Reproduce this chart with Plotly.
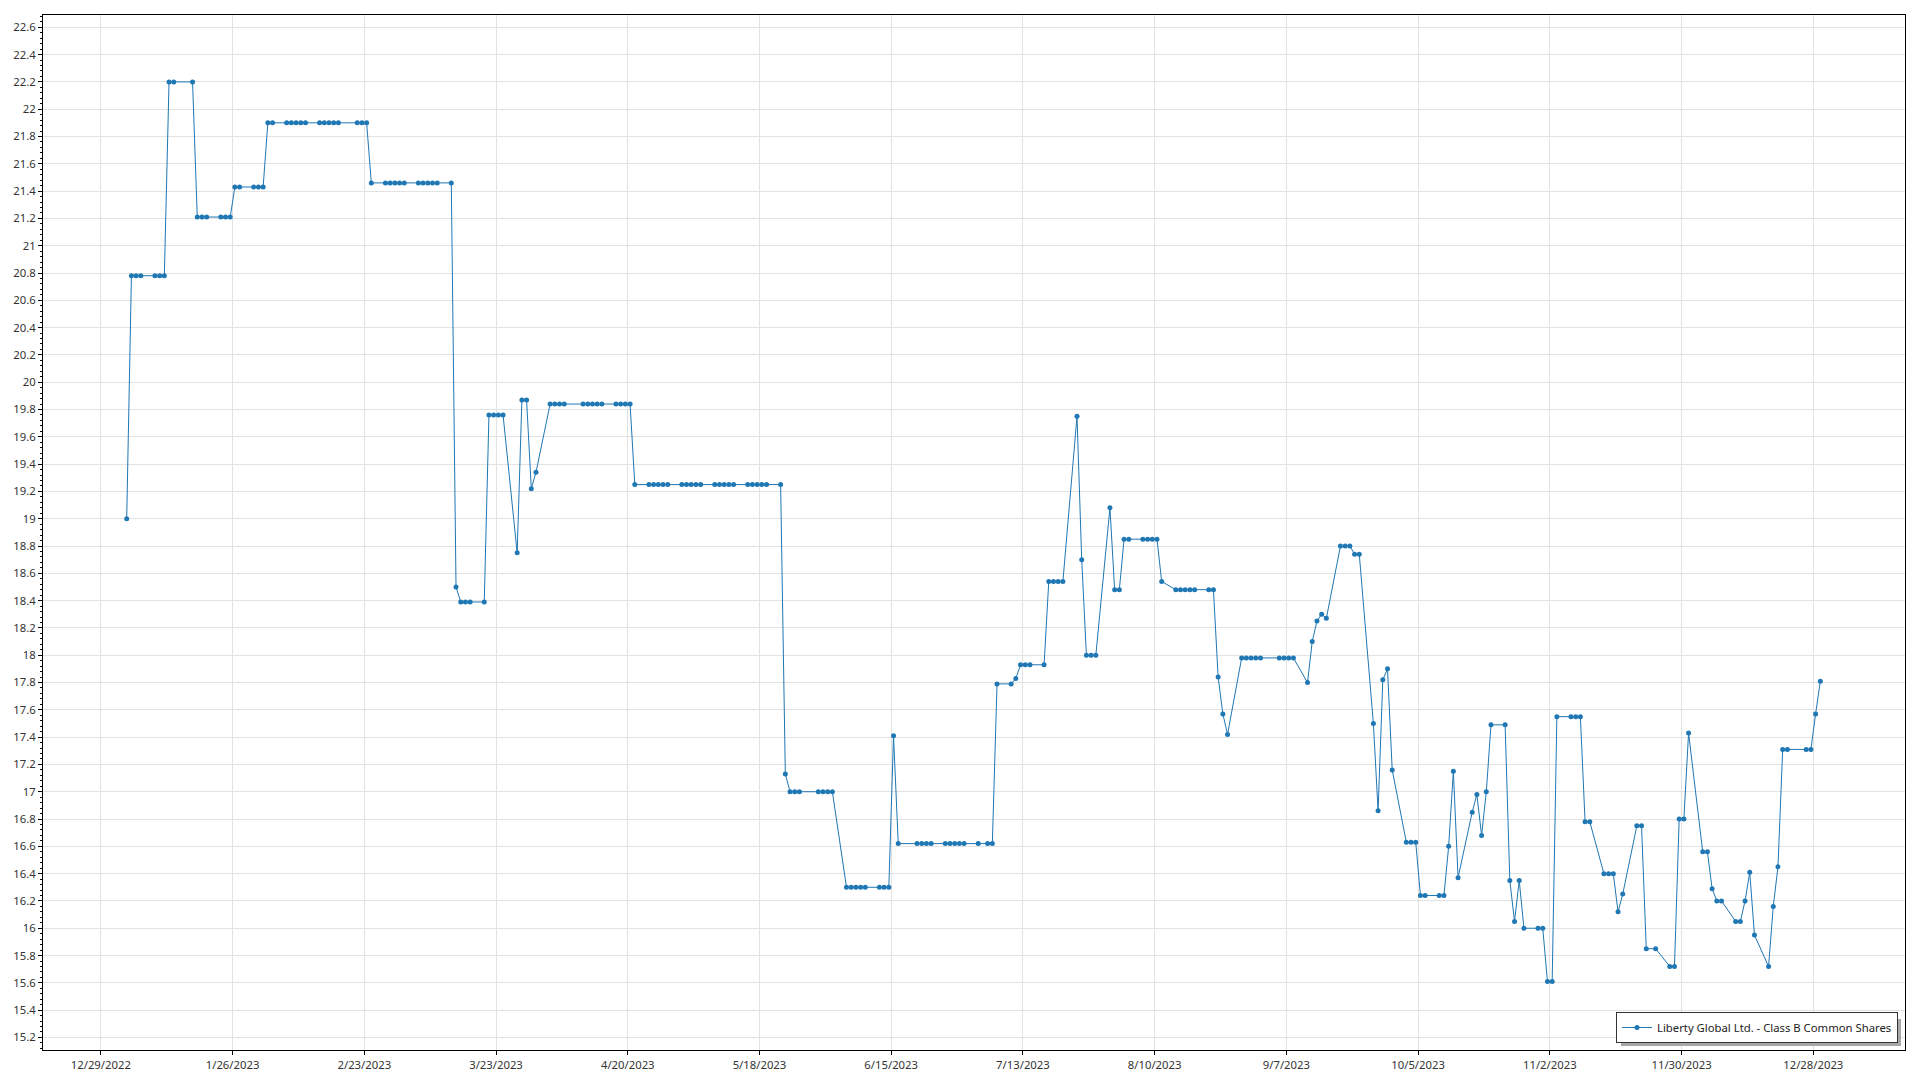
import pandas as pd
import plotly.graph_objects as go

# ---- data ----
holidays = ["2023-01-02", "2023-01-16", "2023-02-20", "2023-04-07", "2023-05-29",
            "2023-06-19", "2023-07-04", "2023-09-04", "2023-11-23", "2023-12-25"]

jan = [19.0, 20.78, 20.78, 20.78, 20.78, 20.78, 20.78, 22.2, 22.2, 22.2,
       21.21, 21.21, 21.21, 21.21, 21.21, 21.21, 21.43, 21.43, 21.43, 21.43]
feb = [21.43, 21.9, 21.9, 21.9, 21.9, 21.9, 21.9, 21.9, 21.9, 21.9, 21.9, 21.9,
       21.9, 21.9, 21.9, 21.9, 21.46, 21.46, 21.46]
mar = [21.46, 21.46, 21.46, 21.46, 21.46, 21.46, 21.46, 21.46, 21.46, 18.5,
       18.39, 18.39, 18.39, 18.39, 19.76, 19.76, 19.76, 19.76, 18.75, 19.87,
       19.87, 19.22, 19.34]
apr = [19.84, 19.84, 19.84, 19.84, 19.84, 19.84, 19.84, 19.84, 19.84, 19.84,
       19.84, 19.84, 19.84, 19.25, 19.25, 19.25, 19.25, 19.25, 19.25]
may = [19.25, 19.25, 19.25, 19.25, 19.25, 19.25, 19.25, 19.25, 19.25, 19.25,
       19.25, 19.25, 19.25, 19.25, 19.25, 19.25, 17.13, 17.0, 17.0, 17.0, 17.0, 17.0]
jun = [17.0, 17.0, 16.3, 16.3, 16.3, 16.3, 16.3, 16.3, 16.3, 16.3, 17.41, 16.62,
       16.62, 16.62, 16.62, 16.62, 16.62, 16.62, 16.62, 16.62, 16.62]
jul = [16.62, 16.62, 16.62, 17.79, 17.79, 17.83, 17.93, 17.93, 17.93, 17.93,
       18.54, 18.54, 18.54, 18.54, 19.75, 18.70, 18.0, 18.0, 18.0, 19.08]
aug = [18.48, 18.48, 18.85, 18.85, 18.85, 18.85, 18.85, 18.85, 18.54, 18.48,
       18.48, 18.48, 18.48, 18.48, 18.48, 18.48, 17.84, 17.57, 17.42, 17.98,
       17.98, 17.98, 17.98]
sep = [17.98, 17.98, 17.98, 17.98, 17.98, 17.8, 18.10, 18.25, 18.30, 18.27,
       18.8, 18.8, 18.8, 18.74, 18.74, 17.5, 16.86, 17.82, 17.90, 17.16]
oct_ = [16.63, 16.63, 16.63, 16.24, 16.24, 16.24, 16.24, 16.6, 17.15, 16.37,
        16.85, 16.98, 16.68, 17.0, 17.49, 17.49, 16.35, 16.05, 16.35, 16.0, 16.0, 16.0]
nov = [15.61, 15.61, 17.55, 17.55, 17.55, 17.55, 16.78, 16.78, 16.4, 16.4, 16.4,
       16.12, 16.25, 16.75, 16.75, 15.85, 15.85, 15.72, 15.72, 16.8, 16.8]
dec = [17.43, 16.56, 16.56, 16.29, 16.2, 16.2, 16.05, 16.05, 16.2, 16.41, 15.95,
       15.72, 16.16, 16.45, 17.31, 17.31, 17.31, 17.31, 17.57, 17.81]

prices = jan + feb + mar + apr + may + jun + jul + aug + sep + oct_ + nov + dec

tick_dates = ["2022-12-29", "2023-01-26", "2023-02-23", "2023-03-23", "2023-04-20",
              "2023-05-18", "2023-06-15", "2023-07-13", "2023-08-10", "2023-09-07",
              "2023-10-05", "2023-11-02", "2023-11-30", "2023-12-28"]
tick_labels = ["12/29/2022", "1/26/2023", "2/23/2023", "3/23/2023", "4/20/2023",
               "5/18/2023", "6/15/2023", "7/13/2023", "8/10/2023", "9/7/2023",
               "10/5/2023", "11/2/2023", "11/30/2023", "12/28/2023"]

series_name = "Liberty Global Ltd. - Class B Common Shares"

# ---- build ----
days = pd.bdate_range("2023-01-03", "2023-12-29", freq="C", holidays=holidays)
x = days + pd.Timedelta(hours=12)
assert len(x) == len(prices)

FONT = "Segoe UI, Noto Sans, DejaVu Sans, sans-serif"
FS = 11.3
GRID = "#e2e2e2"

# plot-area geometry (pixels) used for legend placement
L, R, T, B = 43, 15, 15, 30
PW, PH = 1920 - L - R, 1080 - T - B

fig = go.Figure()
fig.add_trace(go.Scatter(
    x=x, y=prices, mode="lines+markers", name=series_name, showlegend=True,
    line=dict(color="#1f77b4", width=1),
    marker=dict(color="#1f77b4", size=5),
))

# legend drop shadow
leg_right, leg_bottom, leg_left, leg_top = 1898, 1043, 1618, 1016
fig.add_shape(
    type="rect", xref="paper", yref="paper", layer="above",
    x0=(leg_left + 3 - L) / PW, x1=(leg_right + 3 - L) / PW,
    y0=(1080 - B - (leg_bottom + 3)) / PH, y1=(1080 - B - (leg_top + 3)) / PH,
    fillcolor="#a8a8a8", line=dict(width=0),
)

fig.update_layout(
    width=1920, height=1080, autosize=False,
    margin=dict(l=L, r=R, t=T, b=B, pad=0),
    paper_bgcolor="white", plot_bgcolor="white",
    font=dict(family=FONT, size=FS, color="#333333"),
    legend=dict(
        x=(leg_right - L) / PW, y=(1080 - B - leg_bottom) / PH,
        xanchor="right", yanchor="bottom",
        bgcolor="white", bordercolor="#333333", borderwidth=1,
        font=dict(family=FONT, size=FS, color="#222222"),
        itemwidth=30,
    ),
    xaxis=dict(
        type="date", automargin=False,
        range=["2022-12-16 17:00", "2024-01-16 12:00"],
        tickmode="array", tickvals=tick_dates, ticktext=tick_labels,
        showgrid=True, gridcolor=GRID, gridwidth=1,
        showline=True, mirror=True, linecolor="black", linewidth=1,
        ticks="outside", ticklen=4, tickcolor="black",
        zeroline=False, tickfont=dict(size=FS, color="#333333"),
    ),
    yaxis=dict(
        automargin=False,
        range=[15.108, 22.69], tick0=15.2, dtick=0.2,
        showgrid=True, gridcolor=GRID, gridwidth=1,
        showline=True, mirror=True, linecolor="black", linewidth=1,
        ticks="outside", ticklen=4, tickcolor="black",
        minor=dict(dtick=0.04, ticks="outside", ticklen=2, tickcolor="black", showgrid=False),
        zeroline=False, tickfont=dict(size=FS, color="#333333"),
    ),
)

fig.write_html("out.html", config={"displayModeBar": False},
               post_script="document.body.style.margin='0';")
